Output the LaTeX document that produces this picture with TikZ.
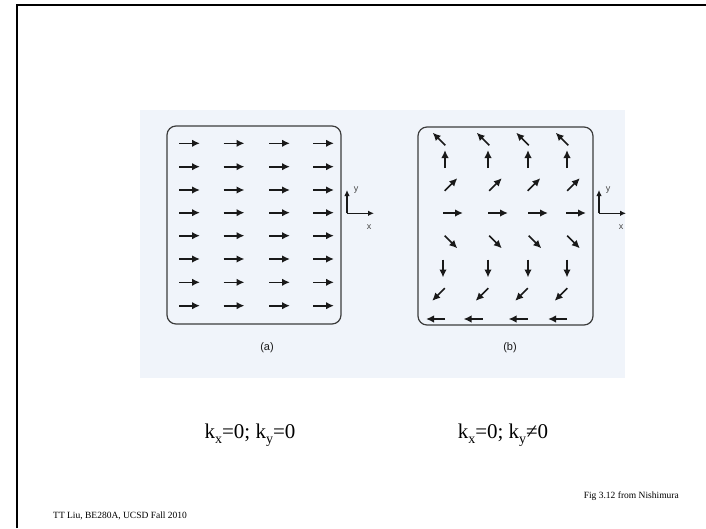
\documentclass[tikz,border=0pt]{standalone}
\usepackage{fontspec}
\setmainfont{Liberation Serif}
\newfontfamily\figsans{Liberation Sans}
\usetikzlibrary{arrows.meta}
\definecolor{scanbg}{RGB}{240,244,250}
\definecolor{ink}{RGB}{25,25,25}
\tikzset{
  fld/.style={draw=ink, line width=1.6pt, -{Latex[length=8pt,width=7.5pt]}},
  boxln/.style={draw=ink!85, line width=1.2pt, rounded corners=9pt},
  axln/.style={draw=ink, line width=1.1pt, -{Latex[length=6pt,width=5.5pt]}},
  axlab/.style={font=\figsans\fontsize{9}{10}\selectfont, text=ink!80, inner sep=0pt},
  sublab/.style={font=\figsans\fontsize{11}{12}\selectfont, text=ink, inner sep=0pt},
  ktext/.style={font=\fontsize{21}{24}\selectfont, inner sep=0pt},
  foot/.style={font=\fontsize{9.5}{11}\selectfont, inner sep=0pt}
}
\newcommand\lowsub[1]{\raisebox{-0.28em}{\fontsize{14}{16}\selectfont #1}}
\begin{document}
\begin{tikzpicture}[x=1pt,y=-1pt]
\useasboundingbox (0,0) rectangle (706,528);
\fill[white] (0,0) rectangle (706,528);
% slide frame (left and top)
\draw[line width=2pt, black] (17,528) -- (17,5) -- (706,5);
% scanned figure background
\fill[scanbg] (140,110) rectangle (625,378);
% box (a)
\draw[boxln] (167,126) rectangle (341,324);
\foreach \cy in {143.3,166.7,190,212.7,235.7,259,282.3,305.7}{
  \foreach \cx in {189.5,234,279.5,323.5}{
    \draw[fld, shift={(\cx,\cy)}] (-10.5,0) -- (10.5,0);
  }
}
% axes (a)
\coordinate (ao) at (347,213.3);
\coordinate (ay) at (347,190);
\coordinate (ax) at (374,213.3);
\draw[axln] (ao) -- (ay);
\draw[axln] (ao) -- (ax);
\node[axlab] (aylab) at (356,190) {y};
\node[axlab] (axlab) at (369,227) {x};
\node[sublab] (la) at (267,348) {(a)};
% box (b)
\draw[boxln] (418,127) rectangle (593,325);
\foreach \cx/\cy/\ang/\len in {
  439/139/135/18, 483/139/135/18, 522.5/139/135/18, 562/139/135/18,
  445/159/90/18, 488/159/90/18, 528/159/90/18, 567/159/90/18,
  451/184.5/45/18, 495.5/184.5/45/18, 534/184.5/45/18, 573.5/184.5/45/18,
  453/213/0/20, 498/213/0/20, 538/213/0/20, 576/213/0/20,
  451/242/-45/18, 495.5/242/-45/18, 535/242/-45/18, 573.5/242/-45/18,
  443/268.5/-90/18, 488/268.5/-90/18, 528/268.5/-90/18, 567/268.5/-90/18,
  438.5/294.5/-135/18, 482/294.5/-135/18, 521.5/294.5/-135/18, 561/294.5/-135/18,
  435.5/319/180/19, 473/319/180/19, 518/319/180/19, 557.5/319/180/19}{
  \draw[fld, shift={(\cx,\cy)}, rotate=\ang] (-\len/2,0) -- (\len/2,0);
}
% axes (b)
\coordinate (bo) at (599,213.3);
\coordinate (by) at (599,190);
\coordinate (bx) at (626,213.3);
\draw[axln] (bo) -- (by);
\draw[axln] (bo) -- (bx);
\node[axlab] (bylab) at (608,190) {y};
\node[axlab] (bxlab) at (621,227) {x};
\node[sublab] (lb) at (510,348) {(b)};
% equations
\node[ktext, anchor=base] (ka) at (250,438) {k\lowsub{x}=0; k\lowsub{y}=0};
\node[ktext, anchor=base] (kb) at (503,438) {k\lowsub{x}=0; k\lowsub{y}≠0};
% footers
\node[foot, anchor=base west] (f1) at (53,518) {TT Liu, BE280A, UCSD Fall 2010};
\node[foot, anchor=base east] (f2) at (679,498) {Fig 3.12 from Nishimura};
\end{tikzpicture}
\end{document}
